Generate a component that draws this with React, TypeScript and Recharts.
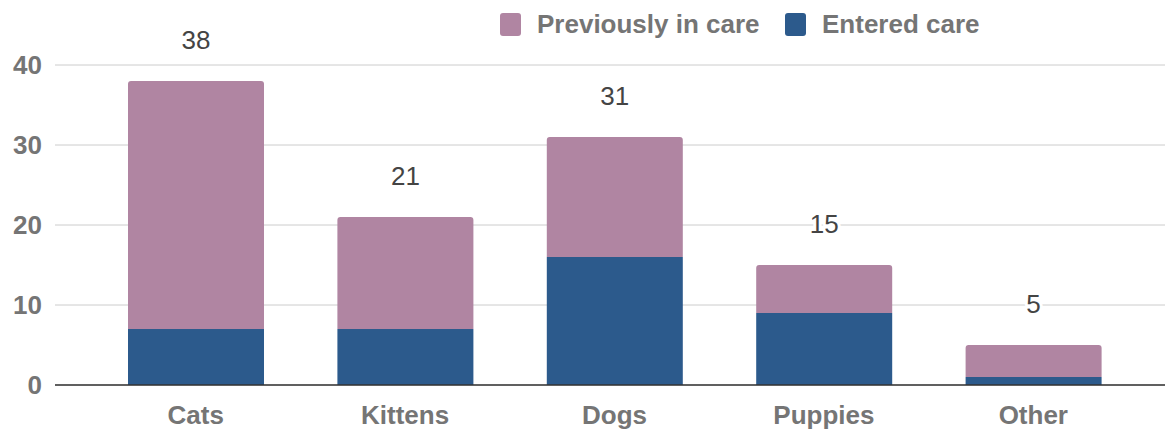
import React from "react";
import { BarChart, Bar, XAxis, YAxis, CartesianGrid, LabelList } from "recharts";

const categories = ["Cats", "Kittens", "Dogs", "Puppies", "Other"];
const enteredCare = [7, 7, 16, 9, 1];
const previouslyInCare = [31, 14, 15, 6, 4];
const yTicks = [0, 10, 20, 30, 40];

const PURPLE = "#b085a2";
const BLUE = "#2c5a8c";
const FONT = "Arial, 'Liberation Sans', sans-serif";

const data = categories.map((c, i) => ({
  name: c,
  entered: enteredCare[i],
  previously: previouslyInCare[i],
  total: enteredCare[i] + previouslyInCare[i],
}));

const TotalLabel = (props: any) => {
  const { x, y, width, value } = props;
  return (
    <text
      x={Number(x) + Number(width) / 2}
      y={Number(y) - 41}
      textAnchor="middle"
      dominantBaseline="central"
      fontFamily={FONT}
      fontSize={26}
      fill="#444444"
      stroke="#ffffff"
      strokeWidth={6}
      paintOrder="stroke"
      strokeLinejoin="round"
    >
      {value}
    </text>
  );
};

const legendItems = [
  { label: "Previously in care", color: PURPLE, left: 500 },
  { label: "Entered care", color: BLUE, left: 785 },
];

export default function App() {
  return (
    <div style={{ position: "absolute", left: 0, top: 0, width: 1165, height: 430, overflow: "hidden", background: "#fff" }}>
      <BarChart
        width={1165}
        height={430}
        data={data}
        margin={{ top: 65, right: 0, bottom: 0, left: 0 }}
        barSize={136}
      >
        <CartesianGrid vertical={false} stroke="#cccccc" strokeWidth={1} />
        <YAxis
          width={55}
          domain={[0, 40]}
          ticks={yTicks}
          axisLine={false}
          tickLine={false}
          tickSize={0}
          tickMargin={13}
          tick={{ fill: "#757575", fontSize: 26, fontWeight: "bold", fontFamily: FONT }}
        />
        <XAxis
          dataKey="name"
          height={45}
          padding={{ left: 36, right: 27 }}
          axisLine={{ stroke: "#333333", strokeWidth: 1.5 }}
          tickLine={false}
          tickSize={0}
          tickMargin={21}
          tick={{ fill: "#757575", fontSize: 26, fontWeight: "bold", fontFamily: FONT }}
        />
        <Bar dataKey="entered" stackId="a" fill={BLUE} isAnimationActive={false} />
        <Bar dataKey="previously" stackId="a" fill={PURPLE} radius={[3, 3, 0, 0]} isAnimationActive={false}>
          <LabelList dataKey="total" content={TotalLabel} />
        </Bar>
      </BarChart>
      {legendItems.map((it) => (
        <div
          key={it.label}
          style={{
            position: "absolute",
            left: it.left,
            top: 8,
            height: 32,
            display: "flex",
            alignItems: "center",
            fontFamily: FONT,
            fontSize: 26,
            fontWeight: "bold",
            color: "#757575",
            whiteSpace: "nowrap",
          }}
        >
          <span
            style={{
              display: "inline-block",
              width: 21,
              height: 23,
              borderRadius: 3,
              background: it.color,
              marginRight: 16,
            }}
          />
          {it.label}
        </div>
      ))}
    </div>
  );
}
